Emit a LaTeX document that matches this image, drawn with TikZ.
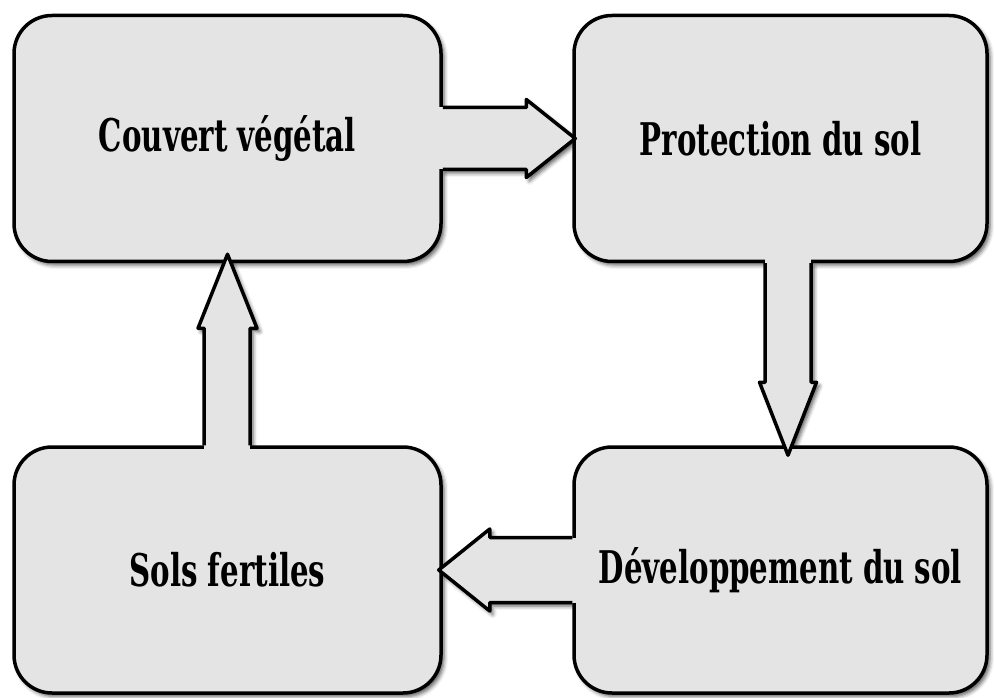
\documentclass[tikz,border=0pt]{standalone}
\usepackage{fontspec}
\usetikzlibrary{calc,shadows.blur}
\newfontfamily\lblfont[FakeStretch=0.65]{DejaVu Serif}
\definecolor{boxgray}{RGB}{228,228,228}
\pgfdeclarelayer{shadowlayer}
\pgfsetlayers{shadowlayer,main}
\begin{document}
\begin{tikzpicture}[x=1pt,y=1pt,
  softshadow/.style={blur shadow={shadow xshift=3pt, shadow yshift=-3.5pt,
    shadow blur radius=4pt, shadow opacity=65}},
  stage/.style={draw=black, line width=3.5pt, fill=boxgray, rounded corners=38pt,
    minimum height=246pt, inner sep=0pt,
    font=\lblfont\bfseries\fontsize{45}{50}\selectfont, softshadow},
  arrowbody/.style={fill=boxgray},
  arrowline/.style={draw=black, line width=3.5pt, line join=round}]
\useasboundingbox (0,0) rectangle (995,697);

% the four stages of the cycle
\node[stage, minimum width=427pt] (b1) at (227.5,558.5) {Couvert végétal};
\node[stage, minimum width=413pt] (b2) at (780.5,558.5) {Protection du sol};
\node[stage, minimum width=413pt] (b3) at (780.5,127) {Développement du sol};
\node[stage, minimum width=427pt] (b4) at (227.5,127) {Sols fertiles};

% block arrow outlines, reused for shadow, fill and stroke
\def\arrowR{let \p1=(b1.east), \p2=(b2.west) in
  (\x1,\y1+31pt) -- (\x2-46pt,\y1+31pt) -- (\x2-46pt,\y1+39pt) -- (\x2+3pt,\y1)
  -- (\x2-46pt,\y1-39pt) -- (\x2-46pt,\y1-31pt) -- (\x1,\y1-31pt)}
\def\arrowD{let \p1=(b2.south), \p2=(b3.north) in
  (\x1-15.5pt,\y1) -- (\x1-15.5pt,\y2+63pt) -- (\x1-21pt,\y2+63pt) -- (\x1+7.5pt,\y2-10pt)
  -- (\x1+36pt,\y2+63pt) -- (\x1+30.5pt,\y2+63pt) -- (\x1+30.5pt,\y1)}
\def\arrowL{let \p1=(b3.west), \p2=(b4.east) in
  (\x1,\y1+32.5pt) -- (\x2+47pt,\y1+32.5pt) -- (\x2+47pt,\y1+41pt) -- (\x2-4pt,\y1)
  -- (\x2+47pt,\y1-41pt) -- (\x2+47pt,\y1-32.5pt) -- (\x1,\y1-32.5pt)}
\def\arrowU{let \p1=(b4.north), \p2=(b1.south) in
  (\x1-23.5pt,\y1) -- (\x1-23.5pt,\y2-65pt) -- (\x1-29.5pt,\y2-65pt) -- (\x1,\y2+9pt)
  -- (\x1+29.5pt,\y2-65pt) -- (\x1+22.5pt,\y2-65pt) -- (\x1+22.5pt,\y1)}

% arrow shadows go under the boxes
\begin{pgfonlayer}{shadowlayer}
\path[softshadow] \arrowR -- cycle;
\path[softshadow] \arrowD -- cycle;
\path[softshadow] \arrowL -- cycle;
\path[softshadow] \arrowU -- cycle;
\end{pgfonlayer}

% arrow bodies, covering the box edges where they join
\path[arrowbody] let \p1=(b1.east) in (\x1-6pt,\y1+31pt) rectangle (\x1+2pt,\y1-31pt);
\path[arrowbody] \arrowR -- cycle;
\path[arrowbody] let \p1=(b2.south) in (\x1-15.5pt,\y1+6pt) rectangle (\x1+30.5pt,\y1-2pt);
\path[arrowbody] \arrowD -- cycle;
\path[arrowbody] let \p1=(b3.west) in (\x1+6pt,\y1+32.5pt) rectangle (\x1-2pt,\y1-32.5pt);
\path[arrowbody] \arrowL -- cycle;
\path[arrowbody] let \p1=(b4.north) in (\x1-23.5pt,\y1-6pt) rectangle (\x1+22.5pt,\y1+2pt);
\path[arrowbody] \arrowU -- cycle;

% arrow outlines
\path[arrowline] \arrowR;
\path[arrowline] \arrowD;
\path[arrowline] \arrowL;
\path[arrowline] \arrowU;
\end{tikzpicture}
\end{document}
